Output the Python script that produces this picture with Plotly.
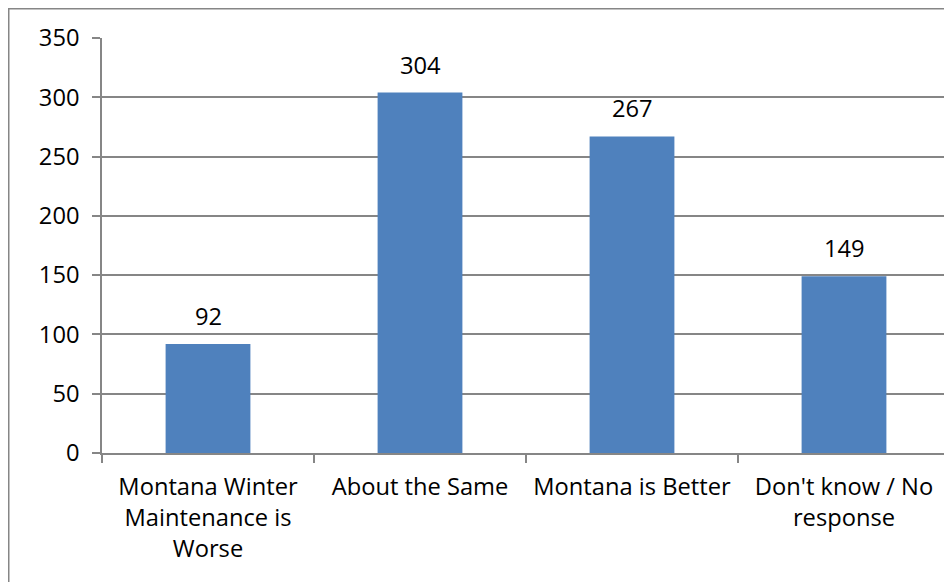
import plotly.graph_objects as go

categories = ["Montana Winter<br>Maintenance is<br>Worse", "About the Same", "Montana is Better", "Don't know / No<br>response"]
values = [92, 304, 267, 149]
y_ticks = [0, 50, 100, 150, 200, 250, 300, 350]

W, H = 952, 582
L, R, T, B = 94, 10, 30, 137
pw, ph = W - L - R, H - T - B

FONT = "Open Sans"
FS = 23.7
GRAY = "#868686"

fig = go.Figure()
fig.add_trace(go.Bar(x=categories, y=values, width=0.4, marker=dict(color="#4F81BD", line=dict(width=0))))

for c, v in zip(categories, values):
    fig.add_annotation(x=c, y=v, text=str(v), showarrow=False, yanchor="bottom",
                       yshift=10, font=dict(family=FONT, size=FS, color="black"))

# outer chart border
fig.add_shape(type="rect", xref="paper", yref="paper",
              x0=(0.75 - L) / pw, x1=(990 - L) / pw,
              y0=(H - B - 640) / ph, y1=1 + (T - 0.75) / ph,
              line=dict(color=GRAY, width=1.5), layer="below")

fig.update_layout(
    width=W, height=H,
    margin=dict(l=L, r=R, t=T, b=B, pad=0),
    paper_bgcolor="white", plot_bgcolor="white",
    showlegend=False,
    font=dict(family=FONT, size=FS, color="black"),
    bargap=0.6,
)
fig.update_xaxes(
    showline=True, linecolor=GRAY, linewidth=1.5,
    ticks="outside", tickson="boundaries", ticklen=8, tickcolor=GRAY, tickwidth=1.5,
    showgrid=False, ticklabelstandoff=12,
    tickfont=dict(family=FONT, size=FS, color="black"),
)
fig.update_yaxes(
    range=[0, 350], tickvals=y_ticks, ticktext=[str(t) for t in y_ticks],
    showline=True, linecolor=GRAY, linewidth=1.5,
    ticks="outside", ticklen=8, tickcolor=GRAY, tickwidth=1.5,
    showgrid=True, gridcolor=GRAY, gridwidth=1.5, zeroline=False,
    ticklabelstandoff=8,
    tickfont=dict(family=FONT, size=FS, color="black"),
)

fig.write_html("out.html")
